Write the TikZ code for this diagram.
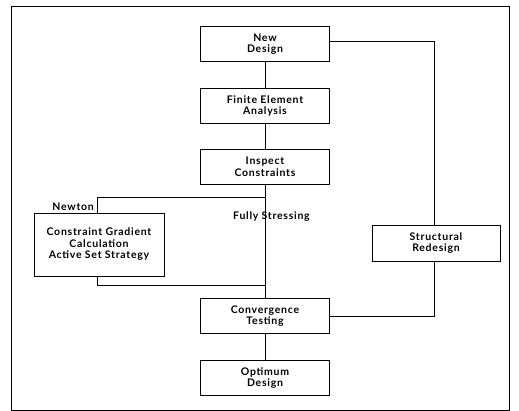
\documentclass[tikz,border=0pt]{standalone}
\usepackage{fontspec}
\setmainfont{Lato}[LetterSpace=7]
\begin{document}
\begin{tikzpicture}[x=1pt,y=-1pt,
  box/.style={draw,line width=0.8pt,minimum width=129pt,minimum height=35pt,align=center,inner sep=1pt,font=\fontsize{10.5}{11.5}\selectfont\bfseries},
  lbl/.style={font=\fontsize{10.5}{11.5}\selectfont\bfseries,inner sep=0pt},
  conn/.style={line width=0.8pt}]
\useasboundingbox (0,0) rectangle (519,411);
\draw[line width=0.8pt] (11,6) rectangle (509,410);
\node[box] (new) at (265,44) {New\\Design};
\node[box] (fea) at (265,106) {Finite Element\\Analysis};
\node[box] (insp) at (265,166.5) {Inspect\\Constraints};
\node[box,minimum width=130pt,minimum height=63pt] (cgc) at (99,244.5) {Constraint Gradient\\Calculation\\Active Set Strategy};
\node[box,minimum width=128pt,minimum height=36pt] (sr) at (436,243) {Structural\\Redesign};
\node[box] (conv) at (265,316) {Convergence\\Testing};
\node[box] (opt) at (265,378) {Optimum\\Design};
\coordinate (nt) at (97,197);
\coordinate (nb) at (97,285);
\coordinate (rt) at (434,41);
\coordinate (rb) at (434,316);
\draw[conn] (new) -- (fea);
\draw[conn] (fea) -- (insp);
\draw[conn] (insp) -- (conv);
\draw[conn] (conv) -- (opt);
\draw[conn] (266,197) -- (nt) -- (nt |- cgc.north);
\draw[conn] (nt |- cgc.south) -- (nb) -- (266,285);
\draw[conn] (new.east |- rt) -- (rt) -- (sr.north -| rt);
\draw[conn] (sr.south -| rt) -- (rb) -- (conv.east);
\node[lbl,anchor=east] (newton) at (94,207) {Newton};
\node[lbl,anchor=west] (fs) at (233,217) {Fully Stressing};
\end{tikzpicture}
\end{document}
